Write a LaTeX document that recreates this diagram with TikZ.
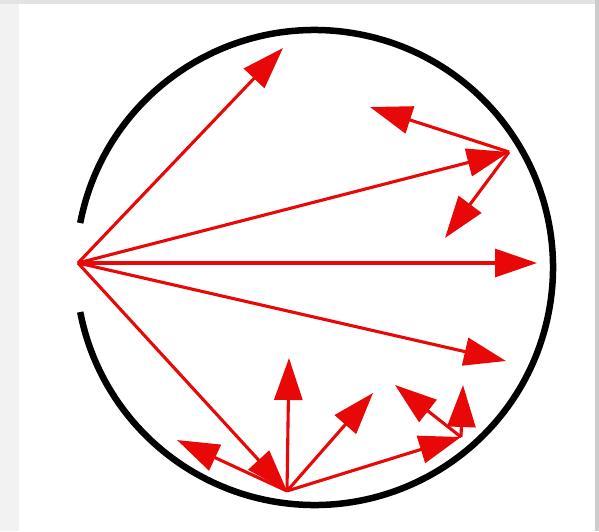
\documentclass[tikz,border=0pt]{standalone}
\usetikzlibrary{arrows.meta,calc}
\definecolor{arrred}{RGB}{232,8,8}
\tikzset{
  ray/.style={draw=arrred, line width=3.1pt, -{Triangle[length=42pt,width=28pt]}},
  wall/.style={draw=black, line width=6.5pt},
}
\begin{document}
\begin{tikzpicture}[x=1pt,y=-1pt]
\useasboundingbox (0,0) rectangle (599,531);
% frame
\fill[gray!10] (0,0) rectangle (599,531);
\fill[gray!22] (0,0) rectangle (599,4);
\fill[gray!40] (595,0) rectangle (599,531);
\fill[white] (19,4) rectangle (595,531);
% sphere wall with opening
\coordinate (C) at (314.5,267.5);
\draw[wall] ($(C)+(190.8:238.5 and 237.5)$) arc[start angle=190.8, end angle=529.2, x radius=238.5, y radius=237.5];
% points
\coordinate (S) at (78,263);
\coordinate (P1) at (509,152);
\coordinate (P2) at (287,491);
\coordinate (P3) at (461,437);
\coordinate (t1) at (283,48);
\coordinate (t3) at (537,263);
\coordinate (t4) at (506,361);
\coordinate (u1) at (370,107);
\coordinate (u2) at (445,238);
\coordinate (b1) at (177,440);
\coordinate (b2) at (289,358);
\coordinate (b3) at (373,393);
\coordinate (c1) at (395,385);
\coordinate (c2) at (463,385);
% rays from source
\draw[ray] (S) -- (t1);
\draw[ray] (S) -- (P1);
\draw[ray] (S) -- (t3);
\draw[ray] (S) -- (t4);
\draw[ray] (S) -- (P2);
% reflections at P1
\draw[ray] (P1) -- (u1);
\draw[ray] (P1) -- (u2);
% reflections at P2
\draw[ray] (P2) -- (b1);
\draw[ray] (P2) -- (b2);
\draw[ray] (P2) -- (b3);
\draw[ray] (P2) -- (P3);
% reflections at P3
\draw[ray] (P3) -- (c1);
\draw[ray] (P3) -- (c2);
\end{tikzpicture}
\end{document}
